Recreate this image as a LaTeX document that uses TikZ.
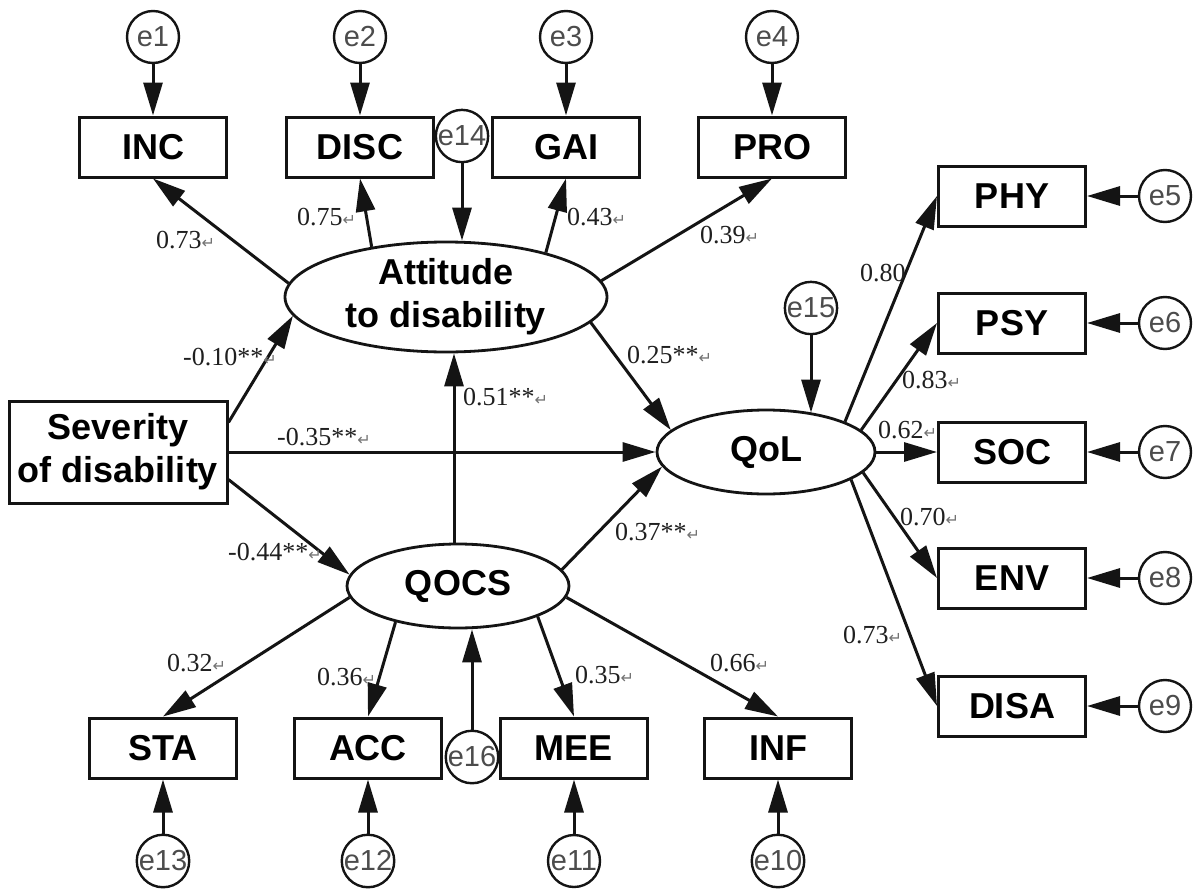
\documentclass[tikz,border=0pt]{standalone}
\usepackage{fontspec}
\setmainfont{Liberation Serif}
\newfontfamily\arialf{Liberation Sans}
\newfontfamily\dejavuf{DejaVu Sans}
\usetikzlibrary{shapes.geometric,arrows.meta}
\definecolor{ink}{gray}{0.08}
\newcommand{\retsym}{{\dejavuf\fontsize{16}{16}\selectfont\color{black!55}↵}}
\tikzset{
  obs/.style={draw=ink, line width=3pt, rectangle, minimum width=147pt, minimum height=60pt, inner sep=0pt, font=\arialf\bfseries\fontsize{36}{40}\selectfont},
  lat/.style={draw=ink, line width=2.8pt, ellipse, inner sep=0pt},
  lattext/.style={align=center, inner sep=0pt, font=\arialf\bfseries\fontsize{36}{43}\selectfont},
  err/.style={draw=ink, circle, line width=2.4pt, minimum size=52pt, inner sep=0pt, font=\arialf\fontsize{29}{29}\selectfont, text=black!70},
  pth/.style={draw=ink, line width=3pt, -{Triangle[length=33pt,width=19pt]}},
  coef/.style={font=\fontsize{26}{26}\selectfont, anchor=base west, inner sep=0pt, text=black!88}
}
\begin{document}
\begin{tikzpicture}[x=1pt,y=-1pt]
\useasboundingbox[fill=white] (0,0) rectangle (1200,894);
% top indicators
\node[err] (e1) at (153,37) {e1};
\node[err] (e2) at (360,37) {e2};
\node[err] (e3) at (566,37) {e3};
\node[err] (e4) at (772,37) {e4};
\node[obs] (INC) at (153,147) {INC};
\node[obs] (DISC) at (360,147) {DISC};
\node[obs] (GAI) at (566,147) {GAI};
\node[obs] (PRO) at (772,147) {PRO};
\node[err] (e14) at (462,136) {e14};
% latent variables
\node[lat, minimum width=322pt, minimum height=110pt] (att) at (446,297) {};
\node[lattext] (attT) at (att) {Attitude\\to disability};
\node[obs, minimum width=218pt, minimum height=102pt, align=center, font=\arialf\bfseries\fontsize{36}{43}\selectfont] (Sev) at (118,452) {Severity\\of disability};
\node[lat, minimum width=218pt, minimum height=84pt] (QoL) at (766,452) {};
\node[lattext] (QoLT) at (QoL) {QoL};
\node[err] (e15) at (811,308) {e15};
\node[lat, minimum width=222pt, minimum height=84pt] (qocs) at (458,586) {};
\node[lattext] (qocsT) at (qocs) {QOCS};
% bottom indicators
\node[obs] (STA) at (163,748) {STA};
\node[obs] (ACC) at (368,748) {ACC};
\node[obs] (MEE) at (574,748) {MEE};
\node[obs] (INF) at (778,748) {INF};
\node[err] (e16) at (472,757) {e16};
\node[err] (e13) at (163,861) {e13};
\node[err] (e12) at (368,861) {e12};
\node[err] (e11) at (574,861) {e11};
\node[err] (e10) at (778,861) {e10};
% right indicators
\node[obs] (PHY) at (1012,196) {PHY};
\node[obs] (PSY) at (1012,323) {PSY};
\node[obs] (SOC) at (1012,452) {SOC};
\node[obs] (ENV) at (1012,578) {ENV};
\node[obs] (DISA) at (1012,706) {DISA};
\node[err] (e5) at (1165,196) {e5};
\node[err] (e6) at (1165,323) {e6};
\node[err] (e7) at (1165,452) {e7};
\node[err] (e8) at (1165,578) {e8};
\node[err] (e9) at (1165,706) {e9};
% error arrows
\foreach \e/\v in {e1/INC,e2/DISC,e3/GAI,e4/PRO,e13/STA,e12/ACC,e11/MEE,e10/INF,e5/PHY,e6/PSY,e7/SOC,e8/ENV,e9/DISA}
  \draw[pth] (\e) -- (\v);
\draw[pth] (e14) -- (e14 |- att.north);
\draw[pth] (e15) -- ([yshift=-4pt]e15 |- QoL.north);
\draw[pth] (e16) -- (e16 |- qocs.south);
% attitude loadings
\draw[pth] (att.175) -- (INC.south);
\draw[pth] (att.146) -- (DISC.south);
\draw[pth] (att.24) -- (GAI.south);
\draw[pth] (att.6) -- (PRO.south);
% structural paths
\draw[pth] (Sev.15) -- (att.187);
\draw[pth] (Sev) -- (QoL);
\draw[pth] (Sev.-14) -- (qocs.174);
\draw[pth] ([xshift=-4pt]qocs.north) -- ([xshift=-4pt]qocs.north |- att.south);
\draw[pth] (att.-10) -- (QoL.167);
\draw[pth] (qocs.9) -- (QoL.188);
% QOCS loadings
\draw[pth] (qocs.186) -- (STA.north);
\draw[pth] (qocs.210) -- (ACC.north);
\draw[pth] (qocs.-21) -- (MEE.north);
\draw[pth] (qocs.-6) -- (INF.north);
% QoL loadings
\draw[pth] (QoL.21) -- (PHY.west);
\draw[pth] (QoL.13) -- (PSY.west);
\draw[pth] (QoL) -- (SOC);
\draw[pth] (QoL.-12) -- (ENV.west);
\draw[pth] (QoL.-18) -- (DISA.west);
% coefficients
\node[coef] (c1) at (156,248) {0.73\retsym};
\node[coef] (c2) at (297,225) {0.75\retsym};
\node[coef] (c3) at (567,225) {0.43\retsym};
\node[coef] (c4) at (700,243) {0.39\retsym};
\node[coef] (c5) at (183,365) {-0.10**\retsym};
\node[coef] (c6) at (277,445) {-0.35**\retsym};
\node[coef] (c7) at (463,405) {0.51**\retsym};
\node[coef] (c8) at (627,363) {0.25**\retsym};
\node[coef] (c9) at (228,560) {-0.44**\retsym};
\node[coef] (c10) at (615,540) {0.37**\retsym};
\node[coef] (c11) at (860,281) {0.80};
\node[coef] (c12) at (902,388) {0.83\retsym};
\node[coef] (c13) at (878,438) {0.62\retsym};
\node[coef] (c14) at (900,525) {0.70\retsym};
\node[coef] (c15) at (843,643) {0.73\retsym};
\node[coef] (c16) at (167,671) {0.32\retsym};
\node[coef] (c17) at (317,685) {0.36\retsym};
\node[coef] (c18) at (575,683) {0.35\retsym};
\node[coef] (c19) at (710,671) {0.66\retsym};
\end{tikzpicture}
\end{document}
